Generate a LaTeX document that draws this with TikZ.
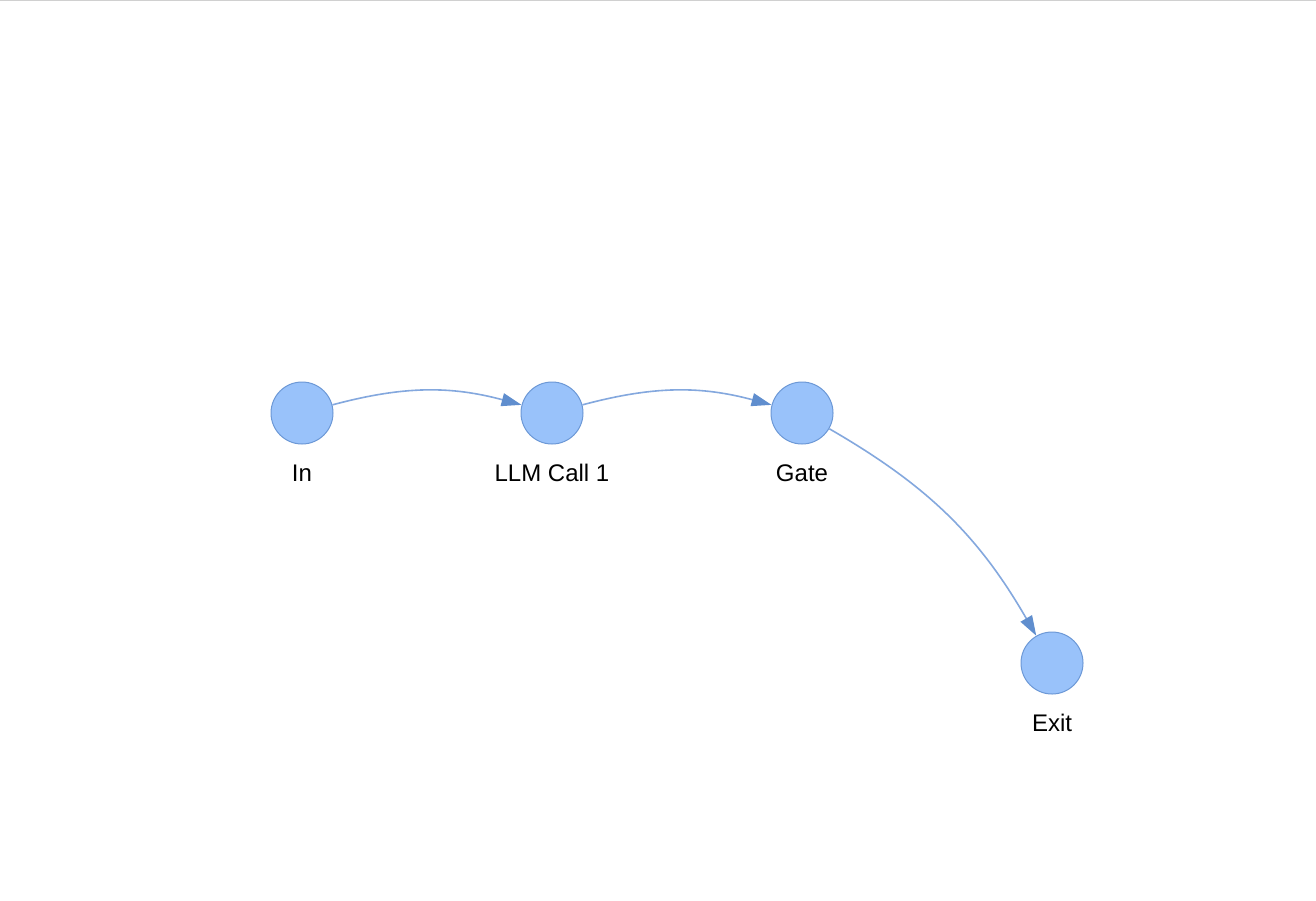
\documentclass[tikz,border=0pt]{standalone}
\usepackage{fontspec}
\setmainfont{Liberation Sans}
\usetikzlibrary{arrows.meta}
\definecolor{nodefill}{RGB}{153,194,250}
\definecolor{nodeline}{RGB}{108,152,214}
\definecolor{edgeline}{RGB}{132,168,222}
\definecolor{arrowfill}{RGB}{96,142,206}
\definecolor{topline}{RGB}{208,208,208}
\begin{document}
\begin{tikzpicture}[x=1pt,y=-1pt,
  vertex/.style={circle,draw=nodeline,fill=nodefill,line width=1pt,minimum size=62pt,inner sep=0pt},
  vlabel/.style={anchor=base,font=\fontsize{24}{28}\selectfont,inner sep=0pt},
  flow/.style={draw=edgeline,line width=1.6pt,-{Triangle[length=20pt,width=13pt,fill=arrowfill,color=arrowfill]},bend left=15}
]
\useasboundingbox (0,0) rectangle (1316,900);
\fill[white] (0,0) rectangle (1316,900);
\coordinate (tl) at (0,0.5);
\coordinate (tr) at (1316,0.5);
\draw[topline,line width=1.2pt] (tl) -- (tr);
\node[vertex] (in) at (302,413) {};
\node[vertex] (llm) at (552,413) {};
\node[vertex] (gate) at (802,413) {};
\node[vertex] (exit) at (1052,663) {};
\node[vlabel] (inl) at (302,481) {In};
\node[vlabel] (llml) at (552,481) {LLM Call 1};
\node[vlabel] (gatel) at (802,481) {Gate};
\node[vlabel] (exitl) at (1052,731) {Exit};
\draw[flow] (in) to (llm);
\draw[flow] (llm) to (gate);
\draw[flow] (gate) to (exit);
\end{tikzpicture}
\end{document}
